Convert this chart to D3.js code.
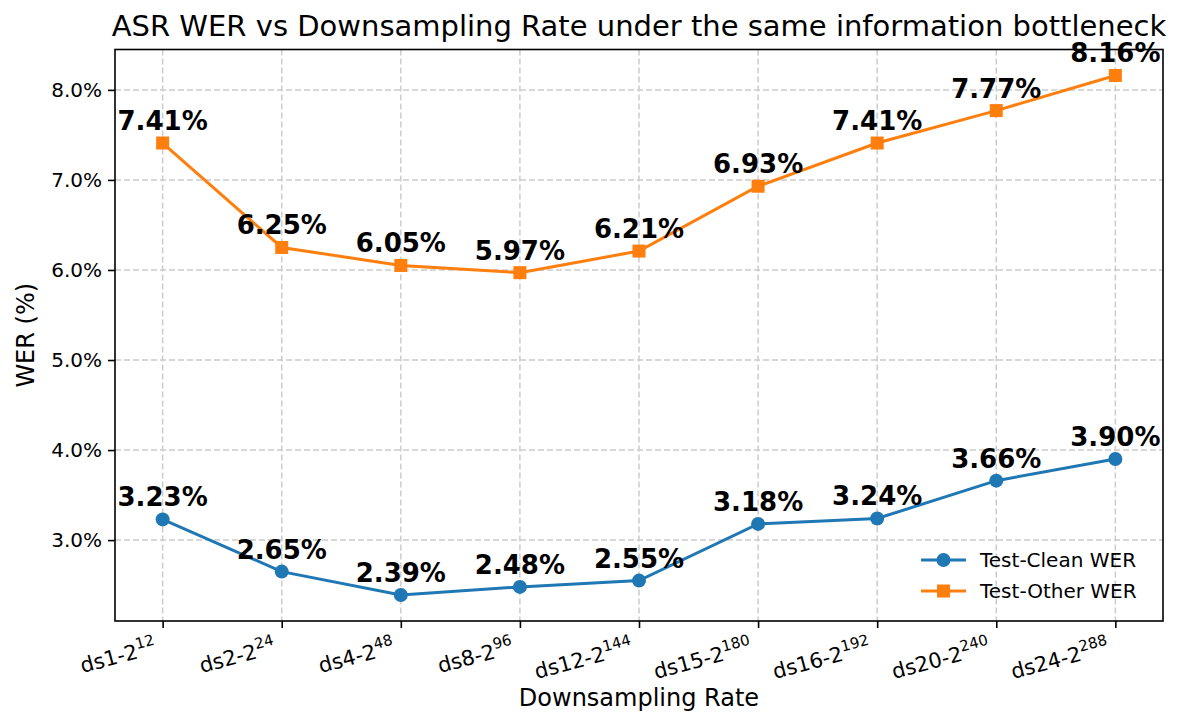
<!DOCTYPE html>
<html>
<head>
<meta charset="utf-8">
<script src="https://cdn.jsdelivr.net/npm/d3@7"></script>
<style>
  body { margin: 0; background: #fff; }
  text { font-family: "DejaVu Sans", sans-serif; }
</style>
</head>
<body>
<div id="chart"></div>
<script>
// data
var rateBase = ['ds1-2', 'ds2-2', 'ds4-2', 'ds8-2', 'ds12-2', 'ds15-2', 'ds16-2', 'ds20-2', 'ds24-2']
var rateExp = ['12', '24', '48', '96', '144', '180', '192', '240', '288']
var cleanWER = [3.23, 2.65, 2.39, 2.48, 2.55, 3.18, 3.24, 3.66, 3.90]
var otherWER = [7.41, 6.25, 6.05, 5.97, 6.21, 6.93, 7.41, 7.77, 8.16]
var yTicks = [3.0, 4.0, 5.0, 6.0, 7.0, 8.0]

var width = 1185
var height = 727
var plotLeft = 115, plotRight = 1163, plotTop = 49.5, plotBottom = 621

var blue = '#1f77b4'
var orange = '#ff7f0e'

var svg = d3.select('#chart').append('svg')
  .attr('width', width)
  .attr('height', height)

// matplotlib style 5% margins
var n = rateBase.length
var x = d3.scaleLinear().domain([-0.4, n - 1 + 0.4]).range([plotLeft, plotRight])
var allVals = cleanWER.concat(otherWER)
var lo = d3.min(allVals), hi = d3.max(allVals)
var pad = (hi - lo) * 0.05
var y = d3.scaleLinear().domain([lo - pad, hi + pad]).range([plotBottom, plotTop])

// grid
var grid = svg.append('g').attr('class', 'grid')
grid.selectAll('line.gx')
  .data(d3.range(n))
  .enter().append('line')
  .attr('x1', function(i) { return x(i) }).attr('x2', function(i) { return x(i) })
  .attr('y1', plotTop).attr('y2', plotBottom)
  .attr('stroke', '#cccccc').attr('stroke-width', 1.5).attr('stroke-dasharray', '6,3')
grid.selectAll('line.gy')
  .data(yTicks)
  .enter().append('line')
  .attr('x1', plotLeft).attr('x2', plotRight)
  .attr('y1', function(d) { return y(d) }).attr('y2', function(d) { return y(d) })
  .attr('stroke', '#cccccc').attr('stroke-width', 1.5).attr('stroke-dasharray', '6,3')

// axes
var yAxis = svg.append('g')
  .attr('transform', 'translate(' + plotLeft + ',0)')
  .call(d3.axisLeft(y).tickValues(yTicks).tickSize(7).tickPadding(6)
    .tickFormat(function(d) { return d.toFixed(1) + '%' }))
yAxis.select('.domain').remove()
yAxis.selectAll('line').attr('stroke', '#000').attr('stroke-width', 1.6)
yAxis.selectAll('text').attr('font-size', 20).attr('fill', '#000')
  .attr('font-family', '"DejaVu Sans", sans-serif')

var xAxis = svg.append('g')
  .attr('transform', 'translate(0,' + plotBottom + ')')
  .call(d3.axisBottom(x).tickValues(d3.range(n)).tickSize(7).tickFormat(''))
xAxis.select('.domain').remove()
xAxis.selectAll('line').attr('stroke', '#000').attr('stroke-width', 1.6)

// rotated tick labels with superscripts
var xl = svg.append('g').selectAll('text')
  .data(d3.range(n))
  .enter().append('text')
  .attr('transform', function(i) { return 'translate(' + (x(i) - 5) + ',' + (plotBottom + 32) + ') rotate(-15)' })
  .attr('text-anchor', 'end')
  .attr('font-size', 21)
  .attr('fill', '#000')
xl.append('tspan').text(function(i) { return rateBase[i] })
xl.append('tspan').attr('dy', -9).attr('font-size', 15).text(function(i) { return rateExp[i] })

// frame
svg.append('rect')
  .attr('x', plotLeft).attr('y', plotTop)
  .attr('width', plotRight - plotLeft).attr('height', plotBottom - plotTop)
  .attr('fill', 'none').attr('stroke', '#000').attr('stroke-width', 1.6)

// lines
var line = d3.line()
  .x(function(d, i) { return x(i) })
  .y(function(d) { return y(d) })

svg.append('path').datum(cleanWER)
  .attr('d', line).attr('fill', 'none').attr('stroke', blue).attr('stroke-width', 3)
svg.append('path').datum(otherWER)
  .attr('d', line).attr('fill', 'none').attr('stroke', orange).attr('stroke-width', 3)

svg.append('g').selectAll('circle')
  .data(cleanWER)
  .enter().append('circle')
  .attr('cx', function(d, i) { return x(i) })
  .attr('cy', function(d) { return y(d) })
  .attr('r', 7)
  .attr('fill', blue)

svg.append('g').selectAll('rect')
  .data(otherWER)
  .enter().append('rect')
  .attr('x', function(d, i) { return x(i) - 6.5 })
  .attr('y', function(d) { return y(d) - 6.5 })
  .attr('width', 13).attr('height', 13)
  .attr('fill', orange)

// value labels
function addLabels(vals) {
  svg.append('g').selectAll('text')
    .data(vals)
    .enter().append('text')
    .attr('x', function(d, i) { return x(i) })
    .attr('y', function(d) { return y(d) - 13 })
    .attr('text-anchor', 'middle')
    .attr('font-size', 26)
    .attr('font-weight', 'bold')
    .attr('fill', '#000')
    .text(function(d) { return d.toFixed(2) + '%' })
}
addLabels(cleanWER)
addLabels(otherWER)

// title and axis labels
svg.append('text')
  .attr('x', (plotLeft + plotRight) / 2).attr('y', 36)
  .attr('text-anchor', 'middle').attr('font-size', 29)
  .text('ASR WER vs Downsampling Rate under the same information bottleneck')

svg.append('text')
  .attr('x', (plotLeft + plotRight) / 2).attr('y', 706)
  .attr('text-anchor', 'middle').attr('font-size', 24)
  .text('Downsampling Rate')

svg.append('text')
  .attr('transform', 'translate(34,' + ((plotTop + plotBottom) / 2) + ') rotate(-90)')
  .attr('text-anchor', 'middle').attr('font-size', 24)
  .text('WER (%)')

// legend (no frame)
var legend = svg.append('g')
var legendItems = [
  { name: 'Test-Clean WER', color: blue, shape: 'circle' },
  { name: 'Test-Other WER', color: orange, shape: 'square' }
]
legendItems.forEach(function(item, k) {
  var cy = 560 + k * 31
  legend.append('line')
    .attr('x1', 921).attr('x2', 966).attr('y1', cy).attr('y2', cy)
    .attr('stroke', item.color).attr('stroke-width', 3)
  if (item.shape == 'circle') {
    legend.append('circle').attr('cx', 943.5).attr('cy', cy).attr('r', 7).attr('fill', item.color)
  } else {
    legend.append('rect').attr('x', 937).attr('y', cy - 6.5).attr('width', 13).attr('height', 13).attr('fill', item.color)
  }
  legend.append('text')
    .attr('x', 980).attr('y', cy + 7)
    .attr('font-size', 20)
    .text(item.name)
})
</script>
</body>
</html>
